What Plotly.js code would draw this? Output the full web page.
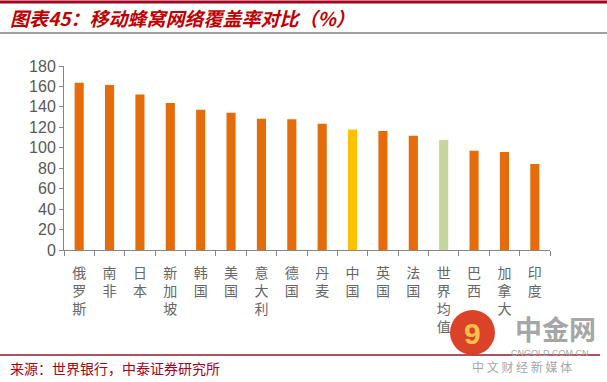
<!DOCTYPE html>
<html>
<head>
<meta charset="utf-8">
<script src="https://cdn.plot.ly/plotly-3.0.1.min.js"></script>
<style>html,body{margin:0;padding:0;background:#fff;}#chart{width:607px;height:382px;}</style>
</head>
<body>
<div id="chart"></div>
<script>
const categories = ["俄罗斯","南非","日本","新加坡","韩国","美国","意大利","德国","丹麦","中国","英国","法国","世界均值","巴西","加拿大","印度"];
const coverage = [163.7, 161.4, 152, 143.8, 137.3, 134.3, 128.5, 127.9, 123.6, 118, 116.4, 111.8, 107.6, 97.2, 95.9, 84.1];
const colors = categories.map(c => c === "中国" ? "#FFC000" : (c === "世界均值" ? "#C3D69B" : "#E46C0A"));
const tickText = categories.map(c => c.split("").join("<br>"));

const L = 64, R = 550, T = 66, B = 250;
const px = x => (x - L) / (R - L);
const py = y => (B - y) / (B - T);

const data = [{
  type: "bar",
  x: categories,
  y: coverage,
  marker: {color: colors},
  hoverinfo: "x+y"
}];

const layout = {
  width: 607, height: 382,
  margin: {l: L, r: 607 - R, t: T, b: 382 - B, pad: 0},
  paper_bgcolor: "#fff", plot_bgcolor: "#fff",
  showlegend: false,
  bargap: 0.7,
  font: {family: "Liberation Sans, Arial, sans-serif", color: "#595959"},
  xaxis: {
    type: "category",
    tickvals: categories,
    ticktext: tickText,
    tickson: "boundaries",
    ticks: "outside", ticklen: 5, tickcolor: "#868686",
    ticklabelstandoff: 10,
    showline: true, linecolor: "#868686", linewidth: 1,
    showgrid: false, zeroline: false,
    tickangle: 0,
    tickfont: {family: "Noto Sans CJK SC", size: 14, color: "#666666"}
  },
  yaxis: {
    range: [0, 180], tickvals: [0,20,40,60,80,100,120,140,160,180],
    ticks: "outside", ticklen: 4, tickcolor: "#868686",
    showline: true, linecolor: "#868686", linewidth: 1,
    showgrid: false, zeroline: false,
    tickfont: {family: "Liberation Sans, Arial, sans-serif", size: 16, color: "#595959"}
  },
  shapes: [
    {type: "line", xref: "paper", yref: "paper", x0: px(0), x1: px(607), y0: py(2), y1: py(2), line: {color: "#A50021", width: 3}},
    {type: "line", xref: "paper", yref: "paper", x0: px(0), x1: px(607), y0: py(33), y1: py(33), line: {color: "#404040", width: 1}},
    {type: "line", xref: "paper", yref: "paper", x0: px(0), x1: px(600), y0: py(355), y1: py(355), line: {color: "#8B1A2B", width: 1.5}},
    {type: "circle", xref: "paper", yref: "paper", x0: px(450), x1: px(495), y0: py(310), y1: py(355), fillcolor: "#D9391C", line: {width: 0}, opacity: 0.95}
  ],
  annotations: [
    {xref: "paper", yref: "paper", x: px(8), y: py(18), xanchor: "left", yanchor: "middle", showarrow: false,
     text: "<b><i>图表45：移动蜂窝网络覆盖率对比（%）</i></b>", font: {family: "Noto Sans CJK SC", size: 19, color: "#C00000"}},
    {xref: "paper", yref: "paper", x: px(8), y: py(368), xanchor: "left", yanchor: "middle", showarrow: false,
     text: "来源：世界银行，中泰证券研究所", font: {family: "Noto Sans CJK SC", size: 14, color: "#A50021"}},
    {xref: "paper", yref: "paper", x: px(472), y: py(333), xanchor: "center", yanchor: "middle", showarrow: false,
     text: "<b>9</b>", font: {family: "Liberation Sans", size: 30, color: "#F7C04A"}},
    {xref: "paper", yref: "paper", x: px(555), y: py(328), xanchor: "center", yanchor: "middle", showarrow: false,
     text: "<b>中金网</b>", font: {family: "Noto Sans CJK SC", size: 27, color: "#A6A6A6"}},
    {xref: "paper", yref: "paper", x: px(550), y: py(353), xanchor: "center", yanchor: "middle", showarrow: false,
     text: "CNGOLD.COM.CN", font: {family: "Liberation Sans", size: 9, color: "#A6A6A6"}},
    {xref: "paper", yref: "paper", x: px(522), y: py(366), xanchor: "center", yanchor: "middle", showarrow: false,
     text: "中 文 财 经 新 媒 体", font: {family: "Noto Sans CJK SC", size: 12, color: "#A6A6A6"}}
  ]
};

Plotly.newPlot("chart", data, layout, {displayModeBar: false, staticPlot: true});
</script>
</body>
</html>
